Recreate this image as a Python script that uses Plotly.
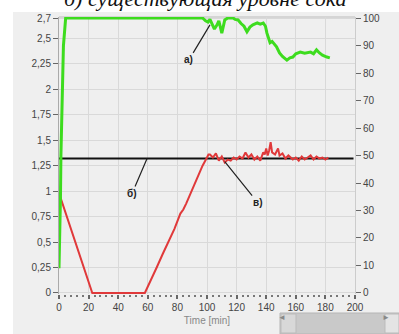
import plotly.graph_objects as go

# ---- data ----
green_t = [0, 0.5, 1, 1.3, 2, 3, 4.5, 20, 40, 60, 80, 95, 97, 99, 100.7, 102, 104, 105, 106.8, 108,
           110, 111, 112, 114, 116, 117.6, 119, 121, 123, 125, 127, 129, 131, 134, 136, 138, 139.5,
           140.5, 142.6, 144, 147, 149, 151, 154, 156, 158, 160, 163, 166, 170, 172, 174, 176, 178,
           181, 183]
green_v = [9, 20, 35, 50, 70, 90, 100, 100, 100, 100, 100, 100, 100, 99, 98.5, 99.5, 97, 96, 97.5, 99,
           94.5, 97, 99.3, 100, 100, 100, 99.5, 99.3, 98, 97, 95, 96.7, 97.5, 98.2, 97.8, 98.2, 97,
           94.5, 91, 91.5, 89.5, 87.3, 86, 84.7, 85.5, 85.8, 87, 87.6, 87.2, 87.6, 87.0, 88.4, 87.3,
           86.5, 85.8, 85.5]

red_t = [0, 22.5, 58, 62, 66, 70, 74, 78, 82, 84, 86, 90, 94, 97, 100, 101,
         102, 104, 106, 108, 110, 112, 114, 116, 118, 120, 122, 124, 126, 128, 130, 132, 134, 136,
         138, 139, 140, 141, 142, 143, 144, 146, 148, 149, 151, 153, 155, 158, 160, 162, 164, 166,
         168, 170, 172, 174, 176, 178, 180, 182]
red_v = [0.98, 0, 0, 0.12, 0.25, 0.38, 0.5, 0.63, 0.78, 0.82, 0.88, 1.02, 1.15, 1.25, 1.33, 1.36,
         1.36, 1.33, 1.37, 1.30, 1.34, 1.28, 1.31, 1.30, 1.33, 1.31, 1.34, 1.32, 1.38, 1.33, 1.36,
         1.31, 1.34, 1.30, 1.38, 1.36, 1.42, 1.35, 1.40, 1.48, 1.38, 1.36, 1.42, 1.35, 1.37, 1.32,
         1.35, 1.31, 1.33, 1.30, 1.34, 1.31, 1.33, 1.35, 1.31, 1.34, 1.32, 1.33, 1.31, 1.33]

black_t = [0, 199]
black_v = [1.32, 1.32]

left_ticks = [0, 0.25, 0.5, 0.75, 1, 1.25, 1.5, 1.75, 2, 2.25, 2.5, 2.7]
left_text = ["0", "0,25", "0,5", "0,75", "1", "1,25", "1,5", "1,75", "2", "2,25", "2,5", "2,7"]
x_ticks = list(range(0, 201, 20))
right_ticks = list(range(0, 101, 10))

title_text = "б) существующая уровне сока"

# ---- figure ----
W, H = 399, 334
ml, mr, mt, mb = 59, 44, 17, 40
pw, ph = W - ml - mr, H - mt - mb

def px(x):
    return (x - ml) / pw

def py(y):
    return (H - mb - y) / ph

fig = go.Figure()
fig.add_trace(go.Scatter(x=black_t, y=black_v, mode="lines", line=dict(color="#111111", width=2),
                         hoverinfo="skip"))
fig.add_trace(go.Scatter(x=red_t, y=red_v, mode="lines", line=dict(color="#e0393a", width=2),
                         hoverinfo="skip"))
fig.add_trace(go.Scatter(x=green_t, y=green_v, mode="lines", yaxis="y2",
                         line=dict(color="#3ddc1e", width=3), hoverinfo="skip"))

tickfont = dict(family="Liberation Sans, Arial", size=10, color="#444444")
lo, hi = -0.01, 2.71
fig.update_layout(
    width=W, height=H, margin=dict(l=ml, r=mr, t=mt, b=mb, autoexpand=False),
    paper_bgcolor="white", plot_bgcolor="white", showlegend=False,
    xaxis=dict(range=[0, 200], tickvals=x_ticks, ticks="outside", ticklen=4, tickwidth=2,
               tickcolor="#666666", showgrid=True, gridcolor="#d9d9d9", gridwidth=1,
               zeroline=False, showline=False, tickfont=tickfont, automargin=False,
               minor=dict(dtick=4, ticks="outside", ticklen=2, tickwidth=2, tickcolor="#777777",
                          showgrid=False),
               title=dict(text="Time [min]", font=dict(family="Liberation Sans, Arial", size=10,
                                                       color="#888888"), standoff=4)),
    yaxis=dict(range=[lo, hi], tickvals=left_ticks, ticktext=left_text, ticks="outside",
               ticklen=5, tickcolor="#666666", showgrid=True, gridcolor="#d9d9d9", automargin=False,
               zeroline=False, showline=True, linecolor="#aaaaaa", linewidth=1, tickfont=tickfont),
    yaxis2=dict(range=[lo / 2.7 * 100, hi / 2.7 * 100], tickvals=right_ticks, overlaying="y",
                side="right", ticks="outside", ticklen=5, tickcolor="#666666", showgrid=False,
                automargin=False,
                zeroline=False, showline=True, linecolor="#cccccc", tickfont=tickfont),
)

shapes = [
    # grey panel
    dict(type="rect", xref="paper", yref="paper", x0=px(13), x1=px(399), y0=py(334), y1=py(12),
         fillcolor="#efefef", line=dict(width=0), layer="below"),
    # scrollbar track
    dict(type="rect", xref="paper", yref="paper", x0=px(280), x1=px(399), y0=py(334), y1=py(313),
         fillcolor="#c9c9c9", line=dict(color="#b5b5b5", width=1), layer="above"),
    dict(type="rect", xref="paper", yref="paper", x0=px(281), x1=px(296), y0=py(333), y1=py(314),
         fillcolor="#d8d8d8", line=dict(color="#bbbbbb", width=1), layer="above"),
    dict(type="rect", xref="paper", yref="paper", x0=px(385), x1=px(399), y0=py(333), y1=py(314),
         fillcolor="#e4e4e4", line=dict(color="#bbbbbb", width=1), layer="above"),
    # top border
    dict(type="line", xref="paper", yref="paper", x0=0, x1=1, y0=1, y1=1,
         line=dict(color="#bbbbbb", width=1), layer="below"),
]
fig.update_layout(shapes=shapes)

lab = dict(family="Liberation Sans, Arial", size=10, color="#222222")
annotations = [
    dict(x=px(205), y=py(-1), xref="paper", yref="paper", text="<i>" + title_text + "</i>",
         showarrow=False,
         font=dict(family="Liberation Serif, DejaVu Serif", size=22, color="#111111"),
         xanchor="center", yanchor="middle"),
    dict(x=102, y=97.5, xref="x", yref="y2", text="<b>а)</b>", showarrow=True, arrowhead=0,
         arrowwidth=1.2, arrowcolor="#222222", ax=-21, ay=35, font=lab),
    dict(x=59.5, y=1.32, xref="x", yref="y", text="<b>б)</b>", showarrow=True, arrowhead=0,
         arrowwidth=1.2, arrowcolor="#222222", ax=-15, ay=35, font=lab),
    dict(x=112, y=1.29, xref="x", yref="y", text="<b>в)</b>", showarrow=True, arrowhead=0,
         arrowwidth=1.2, arrowcolor="#222222", ax=33, ay=41, font=lab),
    dict(x=px(288), y=py(323.5), xref="paper", yref="paper", text="◄", showarrow=False,
         font=dict(size=8, color="#888888")),
    dict(x=px(392), y=py(323.5), xref="paper", yref="paper", text="►", showarrow=False,
         font=dict(size=8, color="#888888")),
]
fig.update_layout(annotations=annotations)

fig.write_html("out.html", config={"displayModeBar": False},
               post_script="document.body.style.margin='0';document.body.style.overflow='hidden';")
